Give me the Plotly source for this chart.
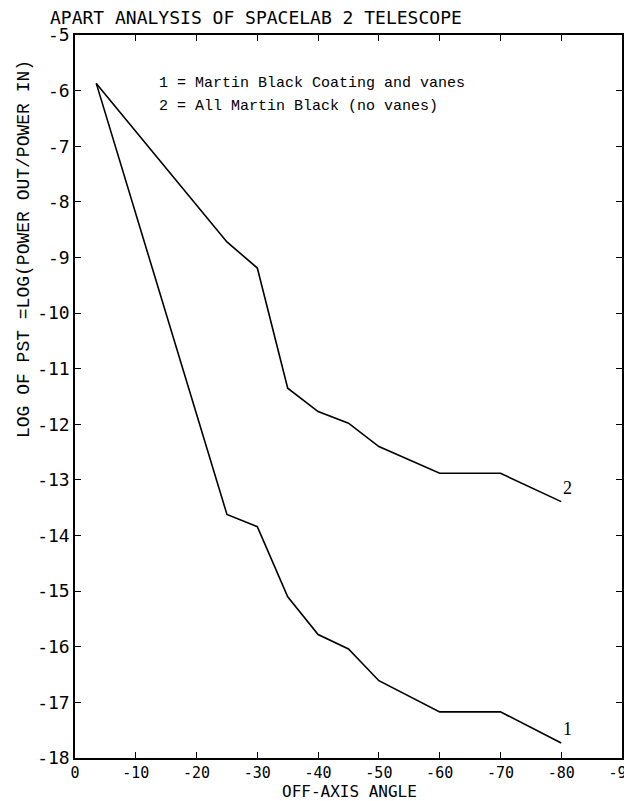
import plotly.graph_objects as go

# Data
angles_1 = [-3.5, -25, -30, -35, -40, -45, -50, -60, -70, -80]
pst_1 = [-5.87, -13.62, -13.84, -15.1, -15.78, -16.04, -16.61, -17.17, -17.17, -17.73]

angles_2 = [-3.5, -25, -30, -35, -40, -45, -50, -60, -70, -80]
pst_2 = [-5.87, -8.72, -9.19, -11.35, -11.77, -11.98, -12.4, -12.88, -12.88, -13.39]

x_ticks = [0, -10, -20, -30, -40, -50, -60, -70, -80, -90]
x_tick_labels = ["0", "-10", "-20", "-30", "-40", "-50", "-60", "-70", "-80", "-90"]
y_ticks = list(range(-5, -19, -1))
y_tick_labels = [f"-{abs(v)}" for v in y_ticks]

title_text = "APART ANALYSIS OF SPACELAB 2 TELESCOPE"
legend_lines = ["1 = Martin Black Coating and vanes", "2 = All Martin Black (no vanes)"]
y_title = "LOG OF PST =LOG(POWER OUT/POWER IN)"
x_title = "OFF-AXIS ANGLE"

plot_font = "DejaVu Sans Mono"
type_font = "Liberation Mono"

W, H = 632, 801
OFF = 8  # page body margin offset
# desired plot box in page pixels: left 75, right 622, top 35, bottom 758
L = 75 - OFF
T = 35 - OFF
R = W - (622 - OFF)
B = H - (758 - OFF)
plot_w = W - L - R
plot_h = H - T - B


def px_x(px):
    return (px - OFF - L) / plot_w


def px_y(py):
    return (H - B - (py - OFF)) / plot_h


fig = go.Figure()
fig.add_trace(go.Scatter(x=angles_1, y=pst_1, mode="lines",
                         line=dict(color="black", width=1.6), showlegend=False))
fig.add_trace(go.Scatter(x=angles_2, y=pst_2, mode="lines",
                         line=dict(color="black", width=1.6), showlegend=False))

# Curve end labels
fig.add_annotation(x=angles_1[-1], y=pst_1[-1], text="1", showarrow=False,
                   xanchor="left", yanchor="bottom", xshift=0, yshift=2,
                   font=dict(family="Liberation Serif", size=18, color="black"))
fig.add_annotation(x=angles_2[-1], y=pst_2[-1], text="2", showarrow=False,
                   xanchor="left", yanchor="bottom", xshift=0, yshift=2,
                   font=dict(family="Liberation Serif", size=18, color="black"))

# Key text
fig.add_annotation(xref="paper", yref="paper", x=px_x(157), y=px_y(83), text=legend_lines[0],
                   showarrow=False, xanchor="left", yanchor="middle",
                   font=dict(family=type_font, size=15, color="black"))
fig.add_annotation(xref="paper", yref="paper", x=px_x(157), y=px_y(107), text=legend_lines[1],
                   showarrow=False, xanchor="left", yanchor="middle",
                   font=dict(family=type_font, size=15, color="black"))

# Y axis title
fig.add_annotation(xref="paper", yref="paper", x=px_x(24), y=px_y(249), text=y_title,
                   showarrow=False, textangle=-90, xanchor="center", yanchor="middle",
                   font=dict(family=type_font, size=18, color="black"))

# X axis title
fig.add_annotation(xref="paper", yref="paper", x=px_x(349), y=px_y(791), text=x_title,
                   showarrow=False, xanchor="center", yanchor="middle",
                   font=dict(family=plot_font, size=16, color="black"))

# Title
fig.add_annotation(xref="paper", yref="paper", x=px_x(48), y=px_y(17), text=title_text,
                   showarrow=False, xanchor="left", yanchor="middle",
                   font=dict(family=plot_font, size=18, color="black"))

axis_common = dict(showline=True, linecolor="black", linewidth=1.5, mirror="ticks",
                   ticks="inside", ticklen=6, tickwidth=1.2, tickcolor="black",
                   showgrid=False, zeroline=False, automargin=False,
                   ticklabeloverflow="allow")

fig.update_layout(
    width=W, height=H,
    margin=dict(l=L, r=R, t=T, b=B),
    paper_bgcolor="white", plot_bgcolor="white",
    xaxis=dict(range=[0, -90], tickvals=x_ticks, ticktext=x_tick_labels,
               tickfont=dict(family=plot_font, size=15, color="black"),
               **axis_common),
    yaxis=dict(range=[-18, -5], tickvals=y_ticks, ticktext=y_tick_labels,
               tickfont=dict(family=plot_font, size=18, color="black"),
               **axis_common),
)

fig.write_html("out.html")
